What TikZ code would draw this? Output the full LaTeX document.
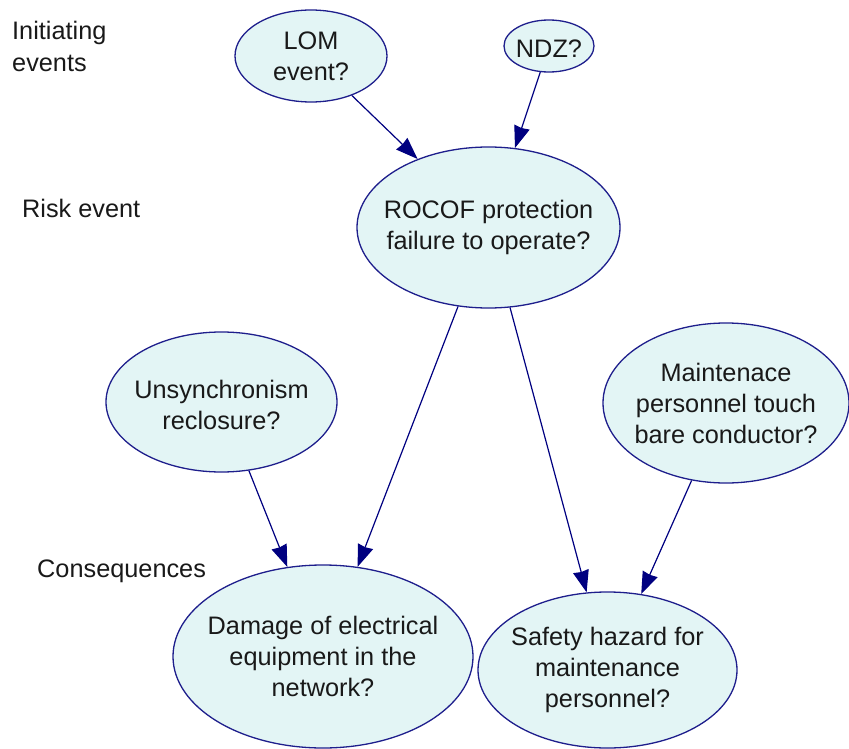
\documentclass[tikz,border=0pt]{standalone}
\usepackage{fontspec}
\setmainfont{Liberation Sans}
\usetikzlibrary{shapes.geometric,arrows.meta}

\definecolor{nodefill}{RGB}{227,245,245}
\definecolor{nodeline}{RGB}{30,30,140}
\definecolor{arrowcol}{RGB}{0,0,128}
\definecolor{textcol}{RGB}{25,25,25}

\tikzset{
  event/.style={ellipse, draw=nodeline, fill=nodefill, line width=1.3pt, inner sep=0pt},
  evtext/.style={align=center, text=textcol, font=\fontsize{25.3}{31}\selectfont, inner sep=0pt},
  lvl/.style={anchor=base west, text=textcol, font=\fontsize{25.3}{31}\selectfont, inner sep=0pt},
  link/.style={draw=arrowcol, line width=1.2pt,
    -{Stealth[length=22pt, width=16pt, inset=1pt, fill=arrowcol]}}
}

\begin{document}
\begin{tikzpicture}[x=1pt, y=-1pt]
  \useasboundingbox (0,0) rectangle (849,749);

  % level captions on the left
  \node[lvl] (capinit1) at (12,40) {Initiating};
  \node[lvl] (capinit2) at (12,72) {events};
  \node[lvl] (caprisk) at (22,217) {Risk event};
  \node[lvl] (capcons) at (37,577) {Consequences};

  % event ellipses
  \node[event, minimum width=152pt, minimum height=92pt] (lom) at (311,56) {};
  \node[event, minimum width=90pt, minimum height=52pt] (ndz) at (549,46) {};
  \node[event, minimum width=263pt, minimum height=161pt] (rocof) at (488.5,227.5) {};
  \node[event, minimum width=231pt, minimum height=140pt] (unsync) at (221.5,402) {};
  \node[event, minimum width=246pt, minimum height=160pt] (maint) at (726,403) {};
  \node[event, minimum width=300pt, minimum height=183pt] (damage) at (323,656.5) {};
  \node[event, minimum width=259pt, minimum height=156pt] (safety) at (607.5,670) {};

  % texts inside the ellipses
  \node[evtext] (lomt) at (lom) {LOM\\event?};
  \node[evtext] (ndzt) at ([yshift=-3pt]ndz.center) {NDZ?};
  \node[evtext] (rocoft) at (rocof) {ROCOF protection\\failure to operate?};
  \node[evtext] (unsynct) at ([yshift=-3pt]unsync.center) {Unsynchronism\\reclosure?};
  \node[evtext] (maintt) at (maint) {Maintenace\\personnel touch\\bare conductor?};
  \node[evtext] (damaget) at (damage) {Damage of electrical\\equipment in the\\network?};
  \node[evtext] (safetyt) at (safety) {Safety hazard for\\maintenance\\personnel?};

  % causal links
  \draw[link] (lom) -- (rocof);
  \draw[link] (ndz) -- (rocof);
  \draw[link] (rocof) -- (damage);
  \draw[link] (rocof) -- (safety);
  \draw[link] (unsync) -- (damage);
  \draw[link] (maint) -- (safety);
\end{tikzpicture}
\end{document}
